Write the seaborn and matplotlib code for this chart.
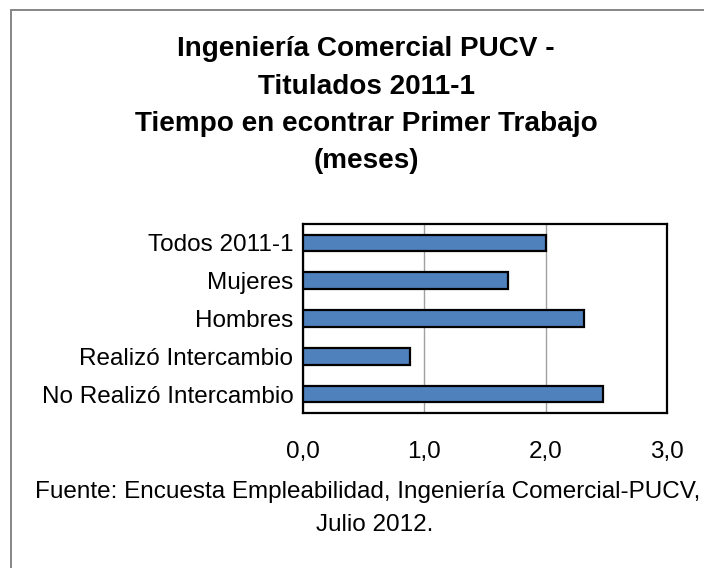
import pandas as pd
import matplotlib
matplotlib.use("Agg")
import matplotlib.pyplot as plt
import seaborn as sns
from matplotlib.patches import Rectangle
from matplotlib.ticker import FuncFormatter


# ==========================================================
# DATA
# ==========================================================

categories = [
    "Todos 2011-1",
    "Mujeres",
    "Hombres",
    "Realizó Intercambio",
    "No Realizó Intercambio",
]
months = [2.0, 1.69, 2.32, 0.88, 2.47]

x_ticks = [0, 1, 2, 3]

title_lines = [
    "Ingeniería Comercial PUCV -",
    "Titulados 2011-1",
    "Tiempo en econtrar Primer Trabajo",
    "(meses)",
]
source_lines = [
    "Fuente: Encuesta Empleabilidad, Ingeniería Comercial-PUCV,",
    "Julio 2012.",
]

df = pd.DataFrame({"categoria": categories, "meses": months})


# ==========================================================
# STYLE
# ==========================================================

sns.set_theme(style="white")
plt.rcParams["font.family"] = ["Liberation Sans", "DejaVu Sans"]

W, H = 704, 568
fig = plt.figure(figsize=(W / 100, H / 100), dpi=100)
ax = fig.add_axes([303 / W, 1 - 413 / H, (667 - 303) / W, (413 - 224) / H])


# ==========================================================
# PLOT
# ==========================================================

sns.barplot(
    data=df,
    x="meses",
    y="categoria",
    orient="h",
    color="#4F81BD",
    saturation=1,
    width=0.44,
    edgecolor="black",
    linewidth=1.6,
    ax=ax,
    zorder=3,
)

ax.set_xlim(0, 3)
ax.set_xticks(x_ticks)
ax.xaxis.set_major_formatter(FuncFormatter(lambda v, p: f"{v:.1f}".replace(".", ",")))
ax.grid(axis="x", color="#A0A0A0", linewidth=1.0, zorder=0)
ax.grid(axis="y", visible=False)
ax.set_xlabel("")
ax.set_ylabel("")
ax.tick_params(axis="x", length=0, pad=20, labelsize=17.5, colors="black")
ax.tick_params(axis="y", length=0, pad=7, labelsize=17.5, colors="black")
for s in ax.spines.values():
    s.set_color("black")
    s.set_linewidth(1.6)

# title (baselines)
for i, line in enumerate(title_lines):
    fig.text(366 / W, 1 - (56 + i * 37.5) / H, line, ha="center", va="baseline",
             fontsize=20.1, fontweight="bold", color="black")

# source
fig.text(368 / W, 1 - 498 / H, source_lines[0], ha="center", va="baseline",
         fontsize=17.5, color="black")
fig.text(375 / W, 1 - 531 / H, source_lines[1], ha="center", va="baseline",
         fontsize=17.5, color="black")

# chart area border (left and top visible)
fig.patches.append(Rectangle((11 / W, -0.2), 2, 1 - 10 / H + 0.2, transform=fig.transFigure,
                             fill=False, edgecolor="#868686", linewidth=1.4, clip_on=False))

fig.savefig("out.png", dpi=100)
plt.close(fig)
